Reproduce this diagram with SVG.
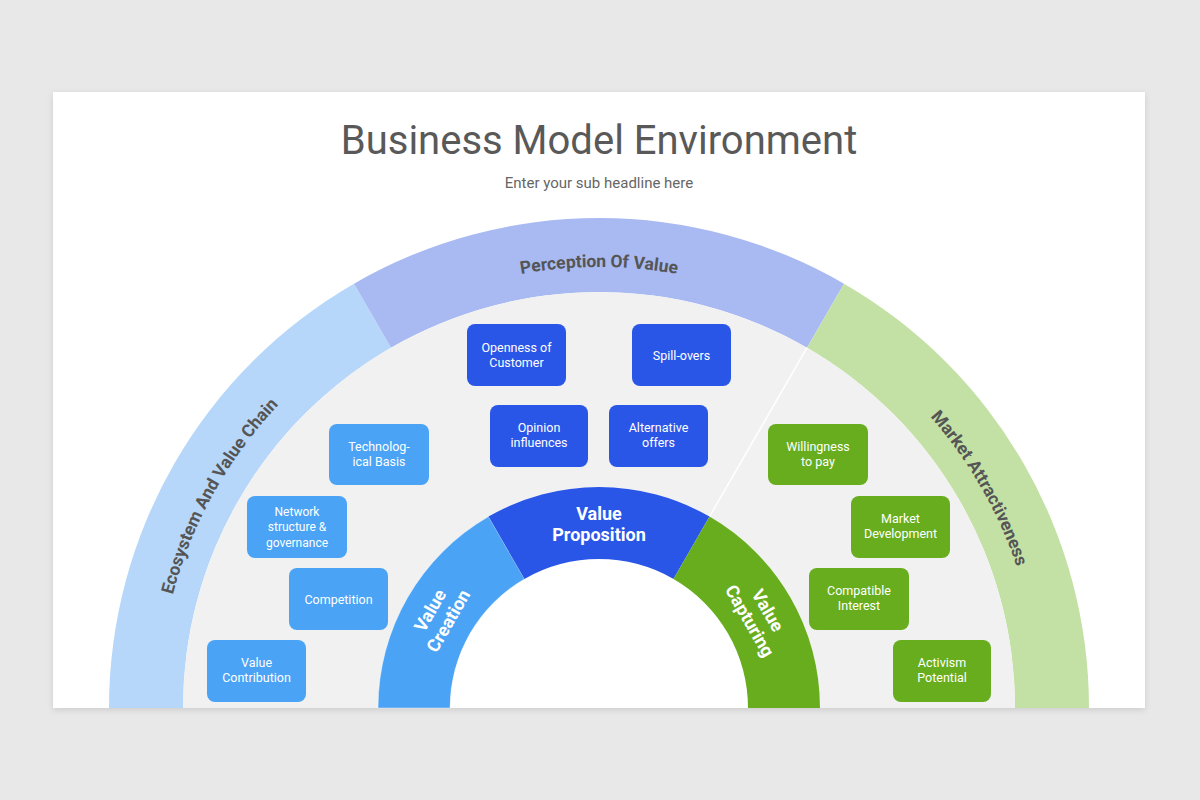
<svg xmlns="http://www.w3.org/2000/svg" width="1200" height="800" viewBox="0 0 1200 800">
  <defs>
    <filter id="shadow" x="-5%" y="-5%" width="110%" height="115%">
      <feDropShadow dx="0" dy="2" stdDeviation="3" flood-color="#000" flood-opacity="0.12"/>
    </filter>
    <path id="labelArc" d="M 158 708 A 441 441 0 0 1 1040 708"/>
    <style>
      .title { font-family: Roboto, "Liberation Sans", sans-serif; font-size: 40px; fill: #595959; text-anchor: middle; }
      .sub { font-family: Roboto, "Liberation Sans", sans-serif; font-size: 15px; fill: #666; text-anchor: middle; }
      .ring { font-family: Roboto, "Liberation Sans", sans-serif; font-size: 17.5px; font-weight: bold; fill: #555; text-anchor: middle; }
      .core { font-family: Roboto, "Liberation Sans", sans-serif; font-size: 18px; font-weight: bold; fill: #fff; text-anchor: middle; }
      .box text { font-family: Roboto, "Liberation Sans", sans-serif; font-size: 12.5px; fill: #fff; text-anchor: middle; }
      .box text.small { font-size: 12px; }
      .lb rect { fill: #4aa3f5; }
      .db rect { fill: #2a56e8; }
      .gr rect { fill: #67ad1d; }
    </style>
  </defs>

  <rect x="0" y="0" width="1200" height="800" fill="#e9e8e9"/>
  <rect x="53" y="92" width="1092" height="616" fill="#ffffff" filter="url(#shadow)"/>

  <g id="title">
    <text class="title" x="599" y="154">Business Model Environment</text>
    <text class="sub" x="599" y="188">Enter your sub headline here</text>
  </g>

  <!-- outer ring -->
  <g id="ring-ecosystem">
    <path d="M109,708 A490,490 0 0 1 354,283.65 L391,347.73 A416,416 0 0 0 183,708 Z" fill="#b6d7fa"/>
    <text class="ring"><textPath href="#labelArc" startOffset="16.2%">Ecosystem And Value Chain</textPath></text>
  </g>
  <g id="ring-perception">
    <path d="M354,283.65 A490,490 0 0 1 844,283.65 L807,347.73 A416,416 0 0 0 391,347.73 Z" fill="#a9baf3"/>
    <text class="ring"><textPath href="#labelArc" startOffset="50%">Perception Of Value</textPath></text>
  </g>
  <g id="ring-market">
    <path d="M844,283.65 A490,490 0 0 1 1089,708 L1015,708 A416,416 0 0 0 807,347.73 Z" fill="#c4e1a5"/>
    <text class="ring"><textPath href="#labelArc" startOffset="83.33%">Market Attractiveness</textPath></text>
  </g>

  <!-- gray band -->
  <path id="band" d="M183,708 A416,416 0 0 1 1015,708 L820,708 A221,221 0 0 0 378,708 Z" fill="#f1f1f1"/>

  <g id="dividers">
    <line x1="807" y1="347.73" x2="709.5" y2="516.61" stroke="#ffffff" stroke-width="1.5"/>
  </g>

  <!-- inner ring -->
  <g id="core-creation">
    <path d="M378,708 A221,221 0 0 1 488.5,516.61 L524.5,578.96 A149,149 0 0 0 450,708 Z" fill="#4aa3f5" stroke="#ffffff" stroke-opacity="0.4" stroke-width="1"/>
    <text class="core" transform="translate(439,615.5) rotate(-60)"><tspan x="0" y="-4">Value</tspan><tspan x="0" y="17">Creation</tspan></text>
  </g>
  <g id="core-proposition">
    <path d="M488.5,516.61 A221,221 0 0 1 709.5,516.61 L673.5,578.96 A149,149 0 0 0 524.5,578.96 Z" fill="#2a56e8"/>
    <text class="core" x="599"><tspan x="599" y="520">Value</tspan><tspan x="599" y="541">Proposition</tspan></text>
  </g>
  <g id="core-capturing">
    <path d="M709.5,516.61 A221,221 0 0 1 820,708 L748,708 A149,149 0 0 0 673.5,578.96 Z" fill="#67ad1d"/>
    <text class="core" transform="translate(759,615.5) rotate(60)"><tspan x="0" y="-4">Value</tspan><tspan x="0" y="17">Capturing</tspan></text>
  </g>

  <!-- boxes: left -->
  <g id="box-technological" class="box lb">
    <rect x="329" y="424" width="100" height="61" rx="8"/>
    <text><tspan x="379" y="451">Technolog-</tspan><tspan x="379" y="466">ical Basis</tspan></text>
  </g>
  <g id="box-network" class="box lb">
    <rect x="247" y="496" width="100" height="62" rx="8"/>
    <text class="small"><tspan x="297" y="515.5">Network</tspan><tspan x="297" y="531">structure &amp;</tspan><tspan x="297" y="546.5">governance</tspan></text>
  </g>
  <g id="box-competition" class="box lb">
    <rect x="289" y="568" width="99" height="62" rx="8"/>
    <text x="338.5" y="603.5">Competition</text>
  </g>
  <g id="box-contribution" class="box lb">
    <rect x="207" y="640" width="99" height="62" rx="8"/>
    <text><tspan x="256.5" y="667">Value</tspan><tspan x="256.5" y="682">Contribution</tspan></text>
  </g>

  <!-- boxes: top -->
  <g id="box-openness" class="box db">
    <rect x="467" y="324" width="99" height="62" rx="8"/>
    <text><tspan x="516.5" y="352">Openness of</tspan><tspan x="516.5" y="367">Customer</tspan></text>
  </g>
  <g id="box-spillovers" class="box db">
    <rect x="632" y="324" width="99" height="62" rx="8"/>
    <text x="681.5" y="359.5">Spill-overs</text>
  </g>
  <g id="box-opinion" class="box db">
    <rect x="490" y="405" width="98" height="62" rx="8"/>
    <text><tspan x="539" y="432">Opinion</tspan><tspan x="539" y="447">influences</tspan></text>
  </g>
  <g id="box-alternative" class="box db">
    <rect x="609" y="405" width="99" height="62" rx="8"/>
    <text><tspan x="658.5" y="432">Alternative</tspan><tspan x="658.5" y="447">offers</tspan></text>
  </g>

  <!-- boxes: right -->
  <g id="box-willingness" class="box gr">
    <rect x="768" y="424" width="100" height="61" rx="8"/>
    <text><tspan x="818" y="451">Willingness</tspan><tspan x="818" y="466">to pay</tspan></text>
  </g>
  <g id="box-market-development" class="box gr">
    <rect x="851" y="496" width="99" height="62" rx="8"/>
    <text><tspan x="900.5" y="523">Market</tspan><tspan x="900.5" y="538">Development</tspan></text>
  </g>
  <g id="box-compatible" class="box gr">
    <rect x="809" y="568" width="100" height="62" rx="8"/>
    <text><tspan x="859" y="595">Compatible</tspan><tspan x="859" y="610">Interest</tspan></text>
  </g>
  <g id="box-activism" class="box gr">
    <rect x="893" y="640" width="98" height="62" rx="8"/>
    <text><tspan x="942" y="667">Activism</tspan><tspan x="942" y="682">Potential</tspan></text>
  </g>
</svg>
